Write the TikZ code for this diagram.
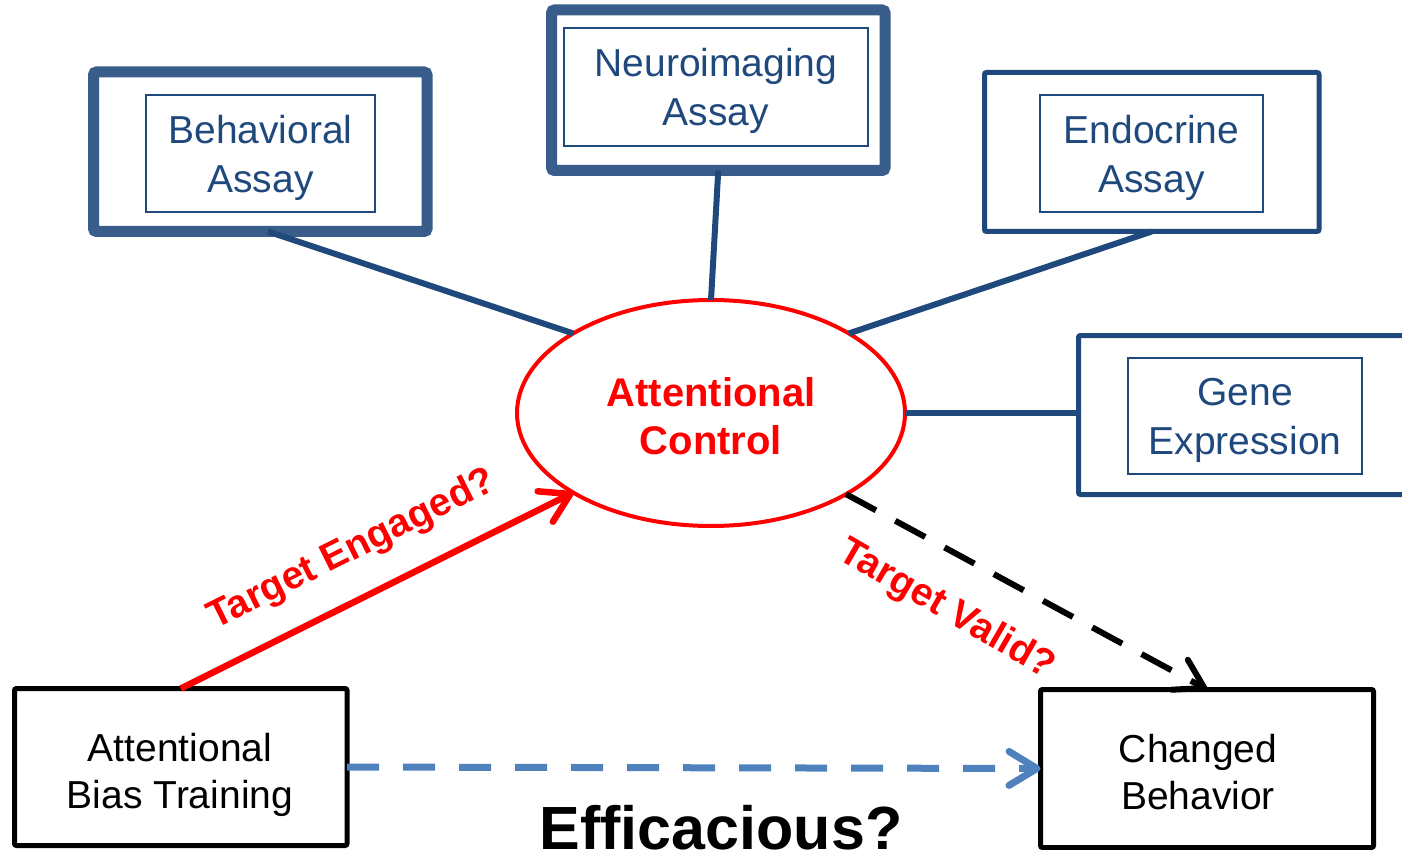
\documentclass[tikz,border=0pt]{standalone}
\usepackage{fontspec}
\setmainfont{Liberation Sans}
\usetikzlibrary{shapes.geometric,arrows.meta,calc}
\definecolor{navy}{HTML}{1F497D}
\definecolor{steel}{HTML}{385D8A}
\definecolor{lblue}{HTML}{4F81BD}
\begin{document}
\begin{tikzpicture}[x=1pt,y=-1pt,
  outerthick/.style={draw=steel, line width=11pt, rounded corners=3pt, inner sep=0pt, outer sep=0pt},
  outerthin/.style={draw=navy, line width=5pt, rounded corners=2pt, inner sep=0pt, outer sep=0pt},
  innerbox/.style={draw=navy, line width=1.5pt, inner sep=0pt, outer sep=0pt, text=navy, align=center, font=\fontsize{39}{49}\selectfont, text depth=0pt},
  blackbox/.style={draw=black, line width=5pt, rounded corners=2pt, inner sep=0pt, outer sep=0pt},
  boxtext/.style={align=center, font=\fontsize{39}{47}\selectfont, text depth=0pt},
  link/.style={draw=navy, line width=6pt},
  redlabel/.style={text=red, font=\bfseries\fontsize{39}{44}\selectfont},
  barb/.style={-{Straight Barb[length=28pt,width=34pt,round]}},
]
\clip (0,0) rectangle (1402,850);
% outer boxes
\node[outerthick, minimum width=333.5pt, minimum height=159.5pt] (beh) at (260.25,151.75) {};
\node[outerthick, minimum width=333.5pt, minimum height=160.5pt] (neuro) at (718.25,90.25) {};
\node[outerthin, minimum width=334.5pt, minimum height=159pt] (endo) at (1151.75,152) {};
\node[outerthin, minimum width=345pt, minimum height=159pt, anchor=west] (gene) at (1078.5,415) {};
% inner boxes
\node[innerbox, minimum width=229pt, minimum height=117pt] (behin) at (260.5,153.5) {Behavioral\\Assay};
\node[innerbox, minimum width=304pt, minimum height=118pt] (neuroin) at (716,87) {Neuroimaging\\Assay};
\node[innerbox, minimum width=223pt, minimum height=117pt] (endoin) at (1151.5,153.5) {Endocrine\\Assay};
\node[innerbox, minimum width=234pt, minimum height=116pt] (genein) at (1245,416) {Gene\\Expression};
% central ellipse
\node[ellipse, draw=red, line width=4pt, minimum width=388pt, minimum height=226pt, inner sep=0pt, outer sep=0pt] (ac) at (711,413) {};
\node[text=red, align=center, font=\bfseries\fontsize{40}{48}\selectfont, text depth=0pt] (actext) at (711,416.5) {Attentional\\Control};
% bottom boxes
\node[blackbox, minimum width=332.5pt, minimum height=157pt] (abt) at (180.75,767) {};
\node[boxtext] (abttext) at (180,770.5) {Attentional\\Bias Training};
\node[blackbox, minimum width=333pt, minimum height=158pt] (cb) at (1207,768.5) {};
\node[boxtext] (cbtext) at (1198,771.5) {Changed\\Behavior};
% links
\draw[link] ($(beh.south west)!0.523!(beh.south east)$) -- (ac.150);
\draw[link] (neuro.south) -- (ac.north);
\draw[link] (endo.south) -- (ac.30);
\draw[link] (ac.east) -- (ac.east -| gene.west);
% arrows
\draw[red, line width=6.5pt, barb] (abt.north) -- (ac.210);
\draw[black, line width=6pt, dash pattern=on 34pt off 22pt, barb] (ac.-31) -- (cb.north);
\draw[lblue, line width=7pt, dash pattern=on 32pt off 24pt, barb] (abt.east) -- (cb.west);
% labels
\node[redlabel, rotate=26.5] (te) at (352,550) {Target Engaged?};
\node[redlabel, rotate=-30] (tv) at (946.5,610) {Target Valid?};
\node[font=\bfseries\fontsize{61}{70}\selectfont, anchor=base] (eff) at (721,849) {Efficacious?};
\end{tikzpicture}
\end{document}
